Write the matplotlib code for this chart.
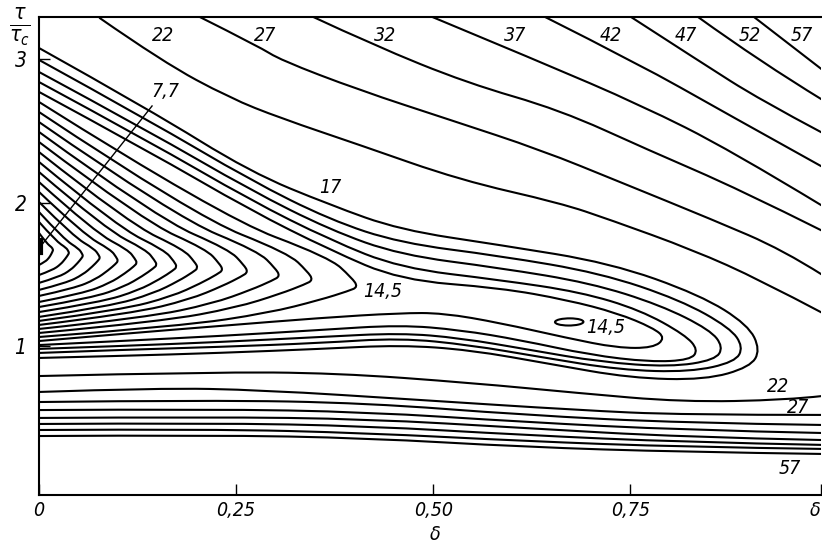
import numpy as np
import matplotlib
matplotlib.use("Agg")
import matplotlib.pyplot as plt
from matplotlib.path import Path
from matplotlib.patches import PathPatch, Ellipse

# --- contour lines (x = delta, y = tau/tau_c) ---

# nested U-shaped contours around the minimum 7.7 on the left edge
u_levels = [8.0, 8.5, 9.0, 9.5, 10.0, 10.5, 11.0, 11.5, 12.0, 12.5, 13.0, 13.5, 14.0, 14.5]
u_x = [
    [0, .0101, .0162, .0174, .0178, .0173, .0157, .0128, .0080, 0],
    [0, .0217, .0347, .0373, .0381, .0370, .0335, .0274, .0171, 0],
    [0, .0318, .0508, .0547, .0558, .0541, .0491, .0402, .0251, 0],
    [0, .0441, .0704, .0759, .0774, .0751, .0681, .0557, .0348, 0],
    [0, .0572, .0913, .0983, .1003, .0973, .0883, .0722, .0451, 0],
    [0, .0709, .1132, .1219, .1244, .1207, .1095, .0896, .0560, 0],
    [0, .0853, .1362, .1467, .1497, .1452, .1317, .1078, .0674, 0],
    [0, .0998, .1593, .1716, .1751, .1698, .1541, .1261, .0788, 0],
    [0, .1150, .1836, .1978, .2018, .1957, .1776, .1453, .0908, 0],
    [0, .1331, .2125, .2288, .2335, .2265, .2055, .1681, .1051, 0],
    [0, .1512, .2413, .2599, .2652, .2572, .2334, .1909, .1193, 0],
    [0, .1743, .2783, .2997, .3058, .2966, .2691, .2202, .1376, 0],
    [0, .1982, .3164, .3407, .3477, .3373, .3060, .2503, .1565, 0],
    [0, .2307, .3684, .3967, .4048, .3927, .3562, .2915, .1822, 0],
]
u_y = [
    [1.791, 1.717, 1.691, 1.678, 1.672, 1.664, 1.645, 1.618, 1.591, 1.568],
    [1.868, 1.734, 1.687, 1.663, 1.652, 1.640, 1.612, 1.572, 1.532, 1.498],
    [1.937, 1.747, 1.680, 1.646, 1.631, 1.616, 1.582, 1.533, 1.484, 1.443],
    [2.007, 1.765, 1.679, 1.636, 1.617, 1.599, 1.559, 1.501, 1.443, 1.394],
    [2.077, 1.779, 1.673, 1.620, 1.596, 1.576, 1.533, 1.469, 1.406, 1.352],
    [2.146, 1.796, 1.672, 1.610, 1.582, 1.560, 1.511, 1.441, 1.370, 1.310],
    [2.216, 1.814, 1.672, 1.600, 1.568, 1.545, 1.492, 1.416, 1.339, 1.275],
    [2.286, 1.832, 1.671, 1.591, 1.554, 1.529, 1.472, 1.391, 1.309, 1.240],
    [2.355, 1.854, 1.676, 1.587, 1.547, 1.520, 1.458, 1.370, 1.281, 1.206],
    [2.425, 1.872, 1.676, 1.578, 1.533, 1.505, 1.441, 1.348, 1.256, 1.178],
    [2.495, 1.890, 1.675, 1.568, 1.519, 1.489, 1.423, 1.327, 1.231, 1.150],
    [2.564, 1.899, 1.663, 1.545, 1.491, 1.461, 1.395, 1.299, 1.203, 1.122],
    [2.634, 1.908, 1.650, 1.522, 1.463, 1.433, 1.367, 1.271, 1.175, 1.094],
    [2.704, 1.905, 1.621, 1.479, 1.415, 1.387, 1.324, 1.234, 1.143, 1.066],
]

# contours that wrap around the second minimum (14.5 near delta = 0.67)
loop_levels = [15.0, 15.5, 16.0, 16.5, 17.0]
loop_x = [
    [0, .1409, .2678, .3693, .4581, .5850, .6701, .7335, .7792, .7944, .7792, .7335, .6701, .5850, .5127, .4581, .3566, .2297, .1028, 0],
    [0, .1409, .2678, .3693, .4581, .5850, .6865, .7627, .8198, .8363, .8261, .7754, .6992, .6104, .5343, .4581, .3566, .2297, .1028, 0],
    [0, .1409, .2678, .3693, .4581, .5850, .6992, .7881, .8515, .8680, .8579, .8008, .7119, .6231, .5343, .4581, .3566, .2297, .1028, 0],
    [0, .1409, .2678, .3693, .4581, .5850, .7119, .8135, .8769, .8934, .8832, .8261, .7373, .6358, .5470, .4581, .3566, .2297, .1028, 0],
    [0, .1409, .2678, .3693, .4581, .5850, .7246, .8388, .8997, .9150, .9023, .8452, .7500, .6485, .5470, .4581, .3566, .2297, .1028, 0],
]
loop_y = [
    [2.774, 2.355, 1.951, 1.672, 1.463, 1.408, 1.324, 1.233, 1.129, 1.059, .990, .990, 1.059, 1.164, 1.233, 1.233, 1.199, 1.143, 1.087, 1.038],
    [2.843, 2.425, 2.021, 1.742, 1.547, 1.463, 1.380, 1.254, 1.080, .976, .906, .892, .941, 1.045, 1.115, 1.150, 1.115, 1.073, 1.038, 1.010],
    [2.913, 2.495, 2.091, 1.812, 1.638, 1.547, 1.443, 1.289, 1.115, .997, .906, .857, .892, .976, 1.059, 1.094, 1.066, 1.031, 1.003, .983],
    [2.997, 2.571, 2.160, 1.882, 1.721, 1.631, 1.512, 1.324, 1.129, .997, .892, .822, .836, .927, 1.010, 1.059, 1.024, .997, .976, .955],
    [3.080, 2.648, 2.216, 1.986, 1.812, 1.707, 1.582, 1.359, 1.150, .976, .857, .767, .780, .878, .976, 1.010, .983, .955, .934, .920],
]

# small closed 14.5 contour at the second minimum
min2_center = (0.6726, 1.171)
min2_size = (0.036, 0.05)

# upper-right family, 22 ... 57
top_levels = [22, 27, 32, 37, 42, 47, 52, 57]
top_x = [
    [.077, .157, .242, .306, .407, .534, .661, .725, .830, .915, .994],
    [.204, .280, .306, .406, .522, .637, .737, .855, .944, .994],
    [.348, .424, .543, .661, .773, .890, .994],
    [.499, .636, .763, .877, .994],
    [.642, .763, .864, .994],
    [.751, .839, .915, .994],
    [.836, .915, .994],
    [.907, .953, .994],
]
top_y = [
    [3.289, 2.983, 2.732, 2.592, 2.404, 2.160, 2.000, 1.882, 1.672, 1.463, 1.233],
    [3.296, 3.087, 2.997, 2.787, 2.578, 2.369, 2.146, 1.882, 1.672, 1.498],
    [3.296, 3.101, 2.836, 2.648, 2.369, 2.091, 1.805],
    [3.296, 2.983, 2.683, 2.369, 1.979],
    [3.296, 2.962, 2.648, 2.251],
    [3.296, 2.983, 2.718, 2.488],
    [3.296, 2.983, 2.718],
    [3.296, 3.101, 2.927],
]

# lower family, 22 ... 57
bot_levels = [22, 27, 32, 37, 42, 47, 52, 57]
bot_x = [
    [0, .217, .377, .549, .683, .816, .949, .994],
    [0, .150, .283, .484, .683, .816, .994],
    [0, .217, .416, .615, .816, .994],
    [0, .217, .416, .615, .816, .994],
    [0, .217, .416, .615, .816, .994],
    [0, .217, .416, .615, .816, .994],
    [0, .217, .416, .615, .816, .994],
    [0, .217, .416, .615, .816, .994],
]
bot_y = [
    [.794, .822, .815, .746, .676, .613, .627, .655],
    [.683, .711, .697, .627, .557, .523, .523],
    [.613, .627, .606, .523, .467, .453],
    [.557, .564, .544, .474, .418, .397],
    [.502, .509, .495, .432, .369, .348],
    [.460, .467, .446, .383, .334, .314],
    [.418, .425, .397, .341, .300, .286],
    [.376, .383, .362, .300, .265, .251],
]

# line labels: (text, x, y)
labels = [
    ("22", .157, 3.164), ("27", .287, 3.164), ("32", .439, 3.164), ("37", .604, 3.164),
    ("42", .726, 3.164), ("47", .821, 3.164), ("52", .902, 3.164), ("57", .967, 3.164),
    ("7,7", .160, 2.774), ("17", .369, 2.105), ("14,5", .4365, 1.380), ("14,5", .7183, 1.129),
    ("22", .938, .718), ("27", .963, .578), ("57", .953, .153),
]
pointer_x = [.1434, .0013]
pointer_y = [2.676, 1.693]

x_ticks = [0, 0.25, 0.50, 0.75, 0.992]
x_ticklabels = ["0", "0,25", "0,50", "0,75", "δ"]
y_ticks = [1, 2, 3]

plt.rcParams["font.family"] = ["DejaVu Sans"]
plt.rcParams["font.style"] = "italic"
plt.rcParams["font.stretch"] = "condensed"
plt.rcParams["mathtext.fontset"] = "dejavusans"

LW = 1.5


def smooth_line(ax, xs, ys, lw=LW):
    # quadratic bezier through the midpoints of the traced points
    pts = np.column_stack([xs, ys]).astype(float)
    if len(pts) < 3:
        ax.plot(xs, ys, color="k", lw=lw, solid_capstyle="round")
        return
    verts = [pts[0]]
    codes = [Path.MOVETO]
    for i in range(1, len(pts) - 2):
        verts += [pts[i], (pts[i] + pts[i + 1]) / 2]
        codes += [Path.CURVE3, Path.CURVE3]
    verts += [pts[-2], pts[-1]]
    codes += [Path.CURVE3, Path.CURVE3]
    ax.add_patch(PathPatch(Path(verts, codes), fill=False, lw=lw, ec="k",
                           capstyle="round", joinstyle="round"))


fig = plt.figure(figsize=(8.22, 5.45), dpi=100)
ax = fig.add_axes([39 / 822, 1 - 495 / 545, (821 - 39) / 822, (495 - 17) / 545])

for xs, ys in zip(u_x, u_y):
    smooth_line(ax, xs, ys)
for xs, ys in zip(loop_x, loop_y):
    smooth_line(ax, xs, ys)
for xs, ys in zip(top_x, top_y):
    smooth_line(ax, xs, ys)
for xs, ys in zip(bot_x, bot_y):
    smooth_line(ax, xs, ys)

ax.add_patch(Ellipse(min2_center, min2_size[0], min2_size[1], angle=-3,
                     fill=False, ec="k", lw=LW))
ax.plot(pointer_x, pointer_y, color="k", lw=1.0)
ax.plot([0.002, 0.002], [1.65, 1.74], color="k", lw=3.0)

for txt, x, y in labels:
    ax.text(x, y, txt, fontsize=14, ha="center", va="center", style="italic")

ax.set_xlim(0, 0.992)
ax.set_ylim(-0.035, 3.296)
ax.set_xticks(x_ticks)
ax.set_xticklabels(x_ticklabels, fontsize=14, style="italic")
ax.get_xticklabels()[-1].set_horizontalalignment("right")
ax.set_yticks(y_ticks)
ax.set_yticklabels([str(v) for v in y_ticks], fontsize=15, style="italic")
ax.tick_params(axis="x", direction="in", length=8, width=1.0, pad=4)
ax.tick_params(axis="y", direction="in", length=8, width=1.0, pad=9)

for s in ["left", "bottom", "top"]:
    ax.spines[s].set_linewidth(1.5)
ax.spines["right"].set_visible(False)

fig.text(435 / 822, 1 - 535 / 545, "δ", fontsize=14, style="italic",
         ha="center", va="center")
fig.text(20 / 822, 1 - 27 / 545, r"$\frac{\tau}{\tau_c}$", fontsize=22,
         ha="center", va="center")

fig.savefig("out.png", dpi=100)
